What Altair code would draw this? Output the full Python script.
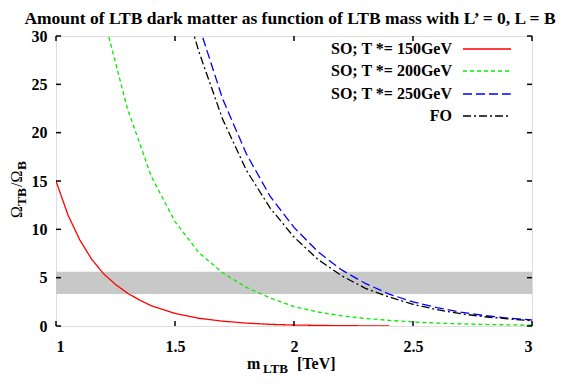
import altair as alt
import pandas as pd

# ---------------- data ----------------
series_names = ["SO; T *= 150GeV", "SO; T *= 200GeV", "SO; T *= 250GeV", "FO"]
series_colors = ["#ff0000", "#00ee00", "#0000ff", "#000000"]
series_dash = [[1, 0], [4, 3], [9, 4], [8, 3, 2, 3]]

m_red = [1.0, 1.05, 1.1, 1.15, 1.2, 1.25, 1.3, 1.35, 1.4, 1.5, 1.6, 1.7, 1.8, 1.9, 2.0, 2.2, 2.4]
v_red = [15.0, 11.5, 8.9, 6.9, 5.4, 4.3, 3.4, 2.7, 2.1, 1.3, 0.8, 0.5, 0.3, 0.17, 0.1, 0.03, 0.01]

m_green = [1.2, 1.3, 1.4, 1.5, 1.6, 1.7, 1.8, 1.9, 2.0, 2.1, 2.2, 2.3, 2.4, 2.5, 2.6, 2.7, 2.8, 2.9, 3.0]
v_green = [32.0, 22.5, 15.5, 10.8, 7.6, 5.5, 4.0, 2.9, 2.0, 1.45, 1.05, 0.78, 0.58, 0.42, 0.3, 0.22, 0.16, 0.12, 0.09]

m_blue = [1.6, 1.7, 1.8, 1.9, 2.0, 2.1, 2.2, 2.3, 2.4, 2.5, 2.6, 2.7, 2.8, 2.9, 3.0]
v_blue = [31.1, 23.5, 17.8, 13.4, 10.2, 7.7, 5.8, 4.4, 3.3, 2.5, 1.9, 1.43, 1.08, 0.82, 0.62]

m_fo = [1.55, 1.6, 1.7, 1.8, 1.9, 2.0, 2.1, 2.2, 2.3, 2.4, 2.5, 2.6, 2.7, 2.8, 2.9, 3.0]
v_fo = [32.6, 28.4, 21.4, 16.1, 12.2, 9.2, 6.9, 5.2, 3.9, 3.0, 2.25, 1.69, 1.27, 0.96, 0.73, 0.55]

band_low, band_high = 3.3, 5.6
x_ticks = [1.0, 1.5, 2.0, 2.5, 3.0]
y_ticks = [0, 5, 10, 15, 20, 25, 30]

title_text = "Amount of LTB dark matter as function of LTB mass with L\u2019 = 0, L = B"

# ---------------- build tables ----------------
rows = []
for name, ms, vs in zip(series_names, [m_red, m_green, m_blue, m_fo], [v_red, v_green, v_blue, v_fo]):
    for m, v in zip(ms, vs):
        rows.append({"series": name, "m": m, "v": v})
curves = pd.DataFrame(rows)

W, H = 476, 290
FONT = "Liberation Serif"

xs = alt.Scale(domain=[1, 3], nice=False, zero=False)
ys = alt.Scale(domain=[0, 30], nice=False, zero=False)

base_axis_x = alt.Axis(values=x_ticks, ticks=False, domain=False, grid=False, title=None, format="~g",
                       labelFont=FONT, labelFontWeight="bold", labelFontSize=16, labelColor="black",
                       labelPadding=12)
base_axis_y = alt.Axis(values=y_ticks, ticks=False, domain=False, grid=False, title=None,
                       labelFont=FONT, labelFontWeight="bold", labelFontSize=16, labelColor="black",
                       labelPadding=9)

band_df = pd.DataFrame({"x1": [1.0], "x2": [3.0], "lo": [band_low], "hi": [band_high]})
band = alt.Chart(band_df).mark_rect(color="#c8c8c8").encode(
    x=alt.X("x1:Q", scale=xs, axis=base_axis_x),
    x2="x2:Q",
    y=alt.Y("lo:Q", scale=ys, axis=base_axis_y),
    y2="hi:Q",
)

lines = alt.Chart(curves).mark_line(clip=True, strokeWidth=1.3).encode(
    x=alt.X("m:Q", scale=xs),
    y=alt.Y("v:Q", scale=ys),
    color=alt.Color("series:N", scale=alt.Scale(domain=series_names, range=series_colors), legend=None),
    strokeDash=alt.StrokeDash("series:N", scale=alt.Scale(domain=series_names, range=series_dash), legend=None),
    detail="series:N",
)

# inward ticks on all four sides
xt = pd.DataFrame({"t": x_ticks})
yt = pd.DataFrame({"t": y_ticks})
tick_style = dict(color="black", strokeWidth=1.5)
t_bottom = alt.Chart(xt).mark_rule(**tick_style).encode(x=alt.X("t:Q", scale=xs), y=alt.value(H), y2=alt.value(H - 5))
t_top = alt.Chart(xt).mark_rule(**tick_style).encode(x=alt.X("t:Q", scale=xs), y=alt.value(0), y2=alt.value(5))
t_left = alt.Chart(yt).mark_rule(**tick_style).encode(y=alt.Y("t:Q", scale=ys), x=alt.value(0), x2=alt.value(5))
t_right = alt.Chart(yt).mark_rule(**tick_style).encode(y=alt.Y("t:Q", scale=ys), x=alt.value(W), x2=alt.value(W - 5))

# custom legend (label left, sample right)
leg_y = [13, 35, 58, 80]
leg_layers = []
for i, name in enumerate(series_names):
    d = pd.DataFrame({"series": [name]})
    leg_layers.append(
        alt.Chart(d).mark_text(align="right", baseline="middle", font=FONT, fontWeight="bold", fontSize=16, color="black")
        .encode(text="series:N", x=alt.value(396), y=alt.value(leg_y[i]))
    )
    leg_layers.append(
        alt.Chart(d).mark_rule(strokeWidth=1.3, color=series_colors[i], strokeDash=series_dash[i])
        .encode(x=alt.value(407), x2=alt.value(455), y=alt.value(leg_y[i]))
    )

# texts (title, axis titles with subscripts)
def txt(s, x, y, size, weight="bold", angle=0, align="left"):
    return alt.Chart(pd.DataFrame({"s": [s]})).mark_text(
        align=align, baseline="alphabetic", font=FONT, fontWeight=weight, fontSize=size, color="black", angle=angle
    ).encode(text="s:N", x=alt.value(x), y=alt.value(y))

title = txt(title_text, 234, -12, 17.5, align="center")

xtitle = [
    txt("m", 191, 333, 16),
    txt("LTB", 207, 337, 13),
    txt("[TeV]", 241, 333, 16),
]
ytitle = [
    txt("\u03a9", -34, 182, 16, weight="normal", angle=270),
    txt("TB", -30, 170, 13.5, angle=270),
    txt("/\u03a9", -34, 151, 16, weight="normal", angle=270),
    txt("B", -30, 134, 13.5, angle=270),
]

chart = alt.layer(
    band, lines, t_bottom, t_top, t_left, t_right, *leg_layers, title, *xtitle, *ytitle
).properties(
    width=W, height=H,
    autosize=alt.AutoSizeParams(type="none"),
    padding={"left": 48, "top": 28, "right": 40, "bottom": 50},
).configure_view(stroke="black", strokeWidth=2.5).configure(background="white")

chart.save("out.html", embed_options={"renderer": "svg", "actions": False})
